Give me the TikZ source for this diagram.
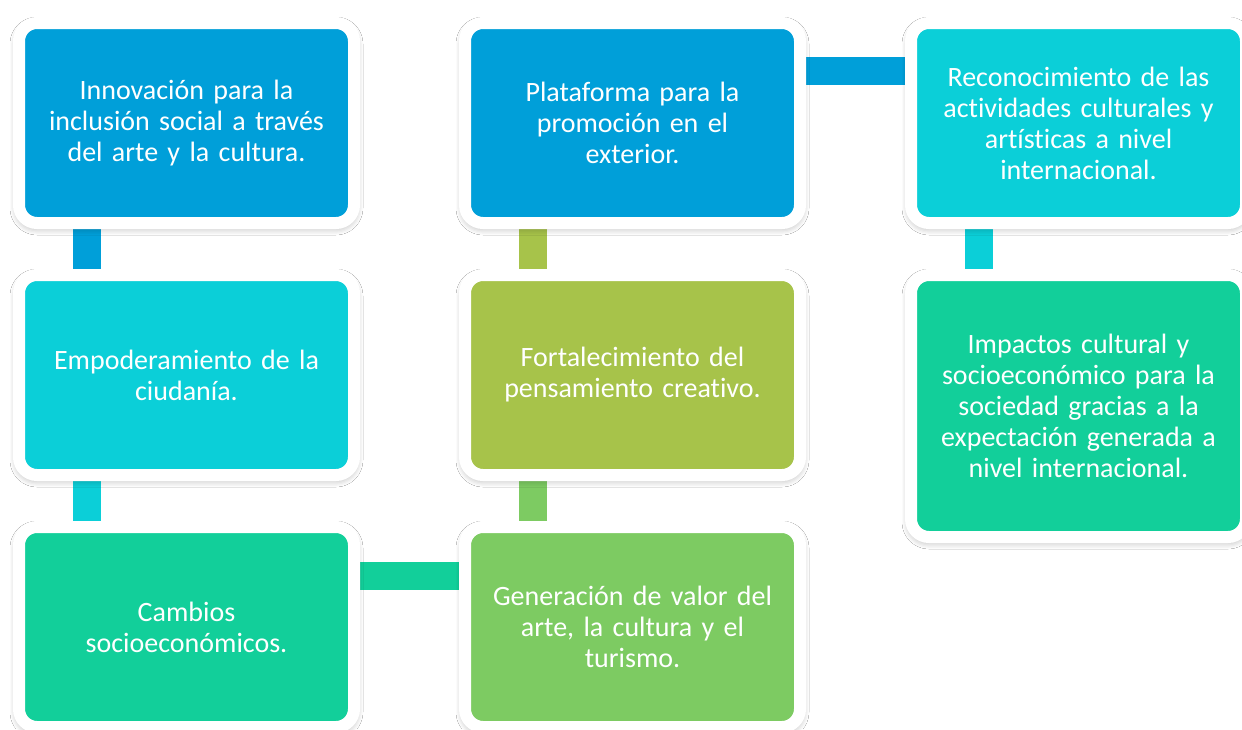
\documentclass[tikz,border=0pt]{standalone}
\usepackage{fontspec}
\setmainfont{Carlito}[Ligatures=NoCommon]
\usetikzlibrary{positioning,backgrounds,shadows.blur}
\definecolor{azul}{RGB}{0,159,217}
\definecolor{cian}{RGB}{11,207,216}
\definecolor{verde}{RGB}{18,207,154}
\definecolor{oliva}{RGB}{167,195,74}
\definecolor{hoja}{RGB}{125,203,98}
\tikzset{
    caja/.style={draw=white, line width=6pt, rounded corners=9pt, fill=#1,
        minimum width=167.5pt, minimum height=100pt, outer sep=0pt, inner sep=0pt,
        text width=160pt, align=center, text=white,
        font=\fontsize{14}{15.5}\selectfont,
        blur shadow={shadow blur steps=8, shadow xshift=0pt, shadow yshift=-1.5pt,
            shadow blur radius=4.5pt, shadow opacity=45}},
    enlace/.style={line width=14pt, draw=#1},
}

\begin{document}
\begin{tikzpicture}
\useasboundingbox (0,0) rectangle (621pt,-364.5pt);

% columna izquierda
\node[caja=azul] (innov) at (93.25pt,-61.5pt) {Innovación para la\\inclusión social a través\\del arte y la cultura.};
\node[caja=cian, below=26pt of innov] (empod) {Empoderamiento de la\\ciudanía.};
\node[caja=verde, below=26pt of empod] (cambios) {Cambios\\socioeconómicos.};

% columna central
\node[caja=azul, right=55.5pt of innov] (plat) {Plataforma para la\\promoción en el\\exterior.};
\node[caja=oliva, below=26pt of plat] (fort) {Fortalecimiento del\\pensamiento creativo.};
\node[caja=hoja, below=26pt of fort] (gener) {Generación de valor del\\arte, la cultura y el\\turismo.};

% columna derecha
\node[caja=cian, right=55.5pt of plat] (recon) {Reconocimiento de las\\actividades culturales y\\artísticas a nivel\\internacional.};
\node[caja=verde, below=26pt of recon, minimum height=131pt] (impact) {Impactos cultural y\\socioeconómico para la\\sociedad gracias a la\\expectación generada a\\nivel internacional.};

\begin{scope}[on background layer]
\fill[white] (0,0) rectangle (621pt,-364.5pt);
\draw[enlace=azul] ([xshift=-50pt]innov.south) -- ([xshift=-50pt]empod.north);
\draw[enlace=cian] ([xshift=-50pt]empod.south) -- ([xshift=-50pt]cambios.north);
\draw[enlace=verde] ([yshift=25.75pt]cambios.east) -- ([yshift=25.75pt]gener.west);
\draw[enlace=hoja] ([xshift=-50pt]gener.north) -- ([xshift=-50pt]fort.south);
\draw[enlace=oliva] ([xshift=-50pt]fort.north) -- ([xshift=-50pt]plat.south);
\draw[enlace=azul] ([yshift=26pt]plat.east) -- ([yshift=26pt]recon.west);
\draw[enlace=cian] ([xshift=-50pt]recon.south) -- ([xshift=-50pt]impact.north);
\end{scope}
\end{tikzpicture}
\end{document}
